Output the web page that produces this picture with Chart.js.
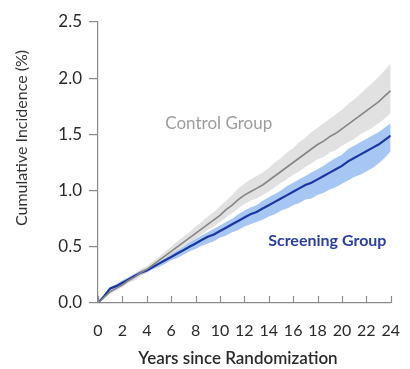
<!DOCTYPE html>
<html>
<head>
<meta charset="utf-8">
<script src="https://cdn.jsdelivr.net/npm/chart.js@4"></script>
<style>
  html, body { margin: 0; padding: 0; background: #fff; }
  #wrap { width: 410px; height: 369px; }
</style>
</head>
<body>
<div id="wrap"><canvas id="myChart" width="410" height="369"></canvas></div>
<script>
const years = [
  0, 0.5, 1, 1.5, 2, 2.5, 3, 3.5, 4, 4.5, 5, 5.5, 6, 6.5, 7, 7.5, 8, 8.5, 9, 9.5,
  10, 10.5, 11, 11.5, 12, 12.5, 13, 13.5, 14, 14.5, 15, 15.5, 16, 16.5, 17, 17.5,
  18, 18.5, 19, 19.5, 20, 20.5, 21, 21.5, 22, 22.5, 23, 23.5, 24,
];

const controlMean = [
  0.0, 0.05, 0.1, 0.13, 0.16, 0.2, 0.23, 0.27, 0.3, 0.34, 0.38, 0.42, 0.46, 0.5,
  0.54, 0.58, 0.62, 0.66, 0.7, 0.74, 0.78, 0.83, 0.87, 0.92, 0.96, 0.99, 1.02,
  1.05, 1.09, 1.13, 1.17, 1.21, 1.25, 1.29, 1.33, 1.37, 1.41, 1.44, 1.48, 1.51,
  1.55, 1.59, 1.63, 1.67, 1.71, 1.75, 1.79, 1.84, 1.89,
];
const controlUpper = [
  0.0, 0.06, 0.12, 0.15, 0.18, 0.22, 0.26, 0.3, 0.33, 0.37, 0.41, 0.46, 0.5,
  0.55, 0.59, 0.63, 0.68, 0.72, 0.77, 0.81, 0.86, 0.91, 0.96, 1.02, 1.06, 1.1,
  1.13, 1.16, 1.2, 1.25, 1.29, 1.34, 1.38, 1.43, 1.47, 1.52, 1.56, 1.6, 1.64,
  1.68, 1.72, 1.77, 1.81, 1.86, 1.91, 1.96, 2.01, 2.07, 2.13,
];
const controlLower = [
  0.0, 0.04, 0.08, 0.11, 0.14, 0.18, 0.2, 0.24, 0.27, 0.31, 0.34, 0.38, 0.42,
  0.46, 0.5, 0.54, 0.57, 0.61, 0.65, 0.68, 0.72, 0.76, 0.8, 0.84, 0.88, 0.91,
  0.93, 0.96, 0.99, 1.03, 1.07, 1.1, 1.14, 1.17, 1.21, 1.24, 1.28, 1.3, 1.34,
  1.36, 1.4, 1.43, 1.46, 1.5, 1.53, 1.56, 1.6, 1.64, 1.69,
];

const screeningMean = [
  0.0, 0.06, 0.13, 0.15, 0.18, 0.21, 0.24, 0.27, 0.29, 0.32, 0.35, 0.38, 0.41,
  0.44, 0.47, 0.5, 0.53, 0.56, 0.59, 0.61, 0.64, 0.67, 0.7, 0.73, 0.76, 0.79,
  0.81, 0.84, 0.87, 0.9, 0.93, 0.96, 0.99, 1.02, 1.05, 1.07, 1.1, 1.13, 1.16,
  1.19, 1.22, 1.26, 1.29, 1.32, 1.35, 1.38, 1.41, 1.45, 1.49,
];
const screeningUpper = [
  0.0, 0.07, 0.14, 0.17, 0.2, 0.23, 0.26, 0.29, 0.31, 0.34, 0.37, 0.4, 0.44,
  0.47, 0.5, 0.54, 0.57, 0.6, 0.63, 0.66, 0.69, 0.72, 0.75, 0.79, 0.82, 0.85,
  0.87, 0.91, 0.94, 0.97, 1.0, 1.04, 1.07, 1.1, 1.13, 1.16, 1.19, 1.22, 1.26,
  1.29, 1.32, 1.37, 1.4, 1.43, 1.46, 1.49, 1.52, 1.56, 1.6,
];
const screeningLower = [
  0.0, 0.05, 0.11, 0.13, 0.16, 0.19, 0.22, 0.25, 0.27, 0.3, 0.32, 0.35, 0.38,
  0.4, 0.43, 0.46, 0.48, 0.51, 0.53, 0.55, 0.58, 0.6, 0.63, 0.65, 0.68, 0.7,
  0.72, 0.74, 0.77, 0.79, 0.82, 0.84, 0.87, 0.89, 0.92, 0.93, 0.96, 0.98, 1.01,
  1.03, 1.06, 1.09, 1.12, 1.14, 1.17, 1.2, 1.24, 1.29, 1.35,
];

const xTicks = [0, 2, 4, 6, 8, 10, 12, 14, 16, 18, 20, 22, 24];
const yTicks = [0, 0.5, 1, 1.5, 2, 2.5];

const FONT = "Lato, 'Open Sans', sans-serif";

const pts = (ys) => years.map((x, i) => ({ x: x, y: ys[i] }));

// annotations + inward x ticks + axis titles
const extras = {
  id: "extras",
  afterDraw(chart) {
    const { ctx, chartArea, scales } = chart;
    const xs = scales.x;
    const ys = scales.y;
    ctx.save();

    // x ticks point up into the plot
    ctx.strokeStyle = "#8a8a8a";
    ctx.lineWidth = 1.2;
    xTicks.forEach((t) => {
      const px = Math.round(xs.getPixelForValue(t)) + 0.5;
      ctx.beginPath();
      ctx.moveTo(px, chartArea.bottom);
      ctx.lineTo(px, chartArea.bottom - 7);
      ctx.stroke();
    });

    ctx.textAlign = "center";
    ctx.textBaseline = "middle";

    ctx.fillStyle = "#9c9c9c";
    ctx.font = "17px " + FONT;
    ctx.fillText("Control Group", xs.getPixelForValue(9.9), ys.getPixelForValue(1.6));

    ctx.fillStyle = "#2b3f9f";
    ctx.font = "bold 16px " + FONT;
    ctx.fillText("Screening Group", xs.getPixelForValue(18.8), ys.getPixelForValue(0.55));

    // axis titles
    ctx.fillStyle = "#2a2a2a";
    ctx.font = "600 17px " + FONT;
    ctx.fillText("Years since Randomization", 238, 359);

    ctx.save();
    ctx.translate(22, 138);
    ctx.rotate(-Math.PI / 2);
    ctx.fillStyle = "#333";
    ctx.font = "16px " + FONT;
    ctx.fillText("Cumulative Incidence (%)", 0, 0);
    ctx.restore();

    ctx.restore();
  },
};

const config = {
  type: "line",
  data: {
    datasets: [
      {
        label: "Control Group",
        data: pts(controlMean),
        borderColor: "#858585",
        borderWidth: 1.6,
        pointRadius: 0,
        fill: false,
      },
      {
        label: "Screening Group",
        data: pts(screeningMean),
        borderColor: "#1a36a3",
        borderWidth: 2.2,
        pointRadius: 0,
        fill: false,
      },
      {
        label: "control upper",
        data: pts(controlUpper),
        borderWidth: 0,
        pointRadius: 0,
        fill: false,
      },
      {
        label: "control lower",
        data: pts(controlLower),
        borderWidth: 0,
        pointRadius: 0,
        backgroundColor: "rgba(205, 205, 205, 0.6)",
        fill: 2,
      },
      {
        label: "screening upper",
        data: pts(screeningUpper),
        borderWidth: 0,
        pointRadius: 0,
        fill: false,
      },
      {
        label: "screening lower",
        data: pts(screeningLower),
        borderWidth: 0,
        pointRadius: 0,
        backgroundColor: "rgba(110, 160, 235, 0.6)",
        fill: 4,
      },
    ],
  },
  options: {
    responsive: false,
    animation: false,
    layout: {
      padding: { top: 22, right: 9, left: 0, bottom: 0 },
    },
    scales: {
      x: {
        type: "linear",
        min: 0,
        max: 24,
        afterFit: (s) => {
          s.height = 66;
        },
        afterBuildTicks: (s) => {
          s.ticks = xTicks.map((v) => ({ value: v }));
        },
        grid: { display: false },
        border: { display: true, color: "#8a8a8a", width: 1.2 },
        ticks: {
          padding: 10,
          color: "#2a2a2a",
          font: { family: FONT, size: 16 },
          maxRotation: 0,
          autoSkip: false,
        },
      },
      y: {
        min: 0,
        max: 2.5,
        afterFit: (s) => {
          s.width = 98;
        },
        afterBuildTicks: (s) => {
          s.ticks = yTicks.map((v) => ({ value: v }));
        },
        grid: {
          drawOnChartArea: false,
          drawTicks: true,
          tickLength: 9,
          color: "#8a8a8a",
          lineWidth: 1.2,
        },
        border: { display: true, color: "#8a8a8a", width: 1.2 },
        ticks: {
          padding: 7,
          color: "#2a2a2a",
          font: { family: FONT, size: 17 },
          callback: (v) => v.toFixed(1),
        },
      },
    },
    plugins: {
      legend: { display: false },
      tooltip: { enabled: false },
    },
  },
  plugins: [extras],
};

const myChart = new Chart(document.getElementById("myChart"), config);
</script>
</body>
</html>
